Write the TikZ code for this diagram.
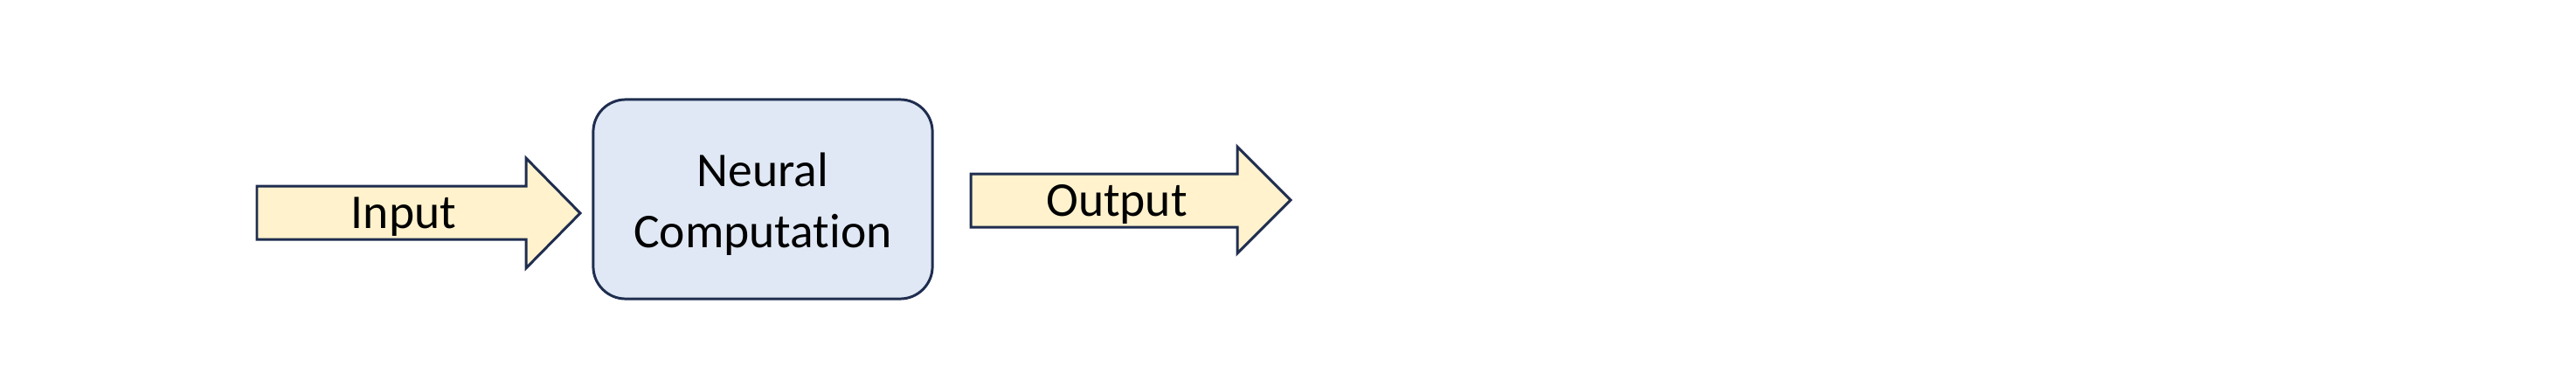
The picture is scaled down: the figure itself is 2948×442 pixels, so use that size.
\documentclass[tikz,border=0pt]{standalone}
\usepackage{fontspec}
\setmainfont{Carlito}[Ligatures=NoCommon]

\definecolor{navy}{HTML}{1F2D4F}
\definecolor{paleyellow}{HTML}{FFF2CC}
\definecolor{paleblue}{HTML}{DFE8F4}

\tikzset{
	fatarrow/.style={draw=navy, fill=paleyellow, line width=0.85pt, line join=miter},
	procbox/.style={draw=navy, fill=paleblue, line width=0.85pt, rounded corners=0.37cm,
		minimum width=3.88cm, minimum height=2.28cm, align=center},
	txt/.style={font=\fontsize{15.8}{19.8}\selectfont, inner sep=0pt}
}

\begin{document}
\begin{tikzpicture}[x=0.01cm, y=-0.01cm]

				\useasboundingbox (0,0) rectangle (2948,442);

				\draw [fatarrow] (294,213) -- (602,213) -- (602,181) -- (664,244) -- (602,307) -- (602,274) -- (294,274) -- cycle;
				\node [txt, anchor=base] (input) at (462,261) {Input};

				\node [procbox, txt] (neural) at (873,228) {\rule{0pt}{5mm}Neural\\Computation};

				\draw [fatarrow] (1111,199) -- (1416,199) -- (1416,168) -- (1477,229) -- (1416,290) -- (1416,260) -- (1111,260) -- cycle;
				\node [txt, anchor=base] (output) at (1278,247) {Output};
			\end{tikzpicture}
\end{document}
